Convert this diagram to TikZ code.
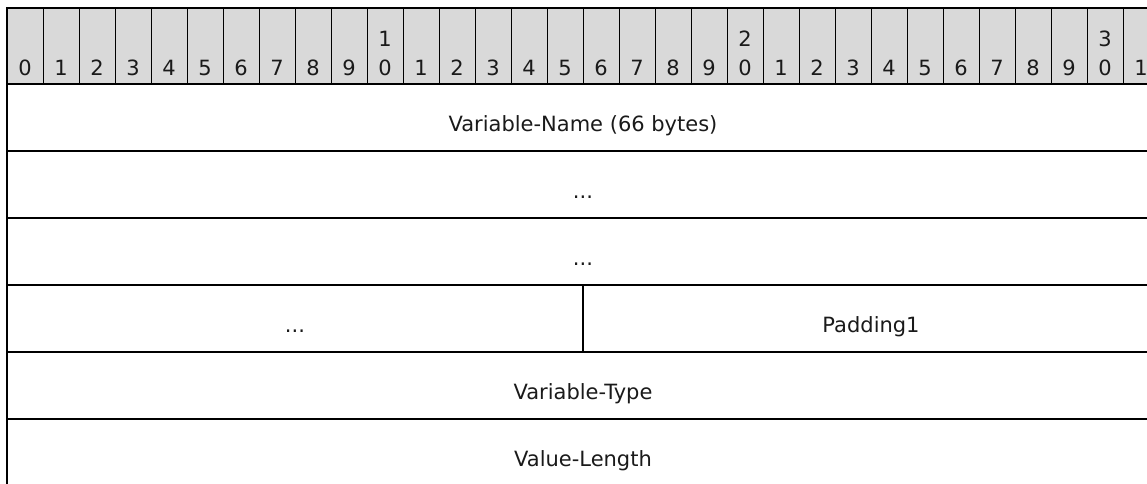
\documentclass[tikz,border=0pt]{standalone}
\usepackage{fontspec}
\setmainfont{DejaVu Sans}
\definecolor{hdrgray}{RGB}{217,217,217}
\definecolor{txt}{RGB}{26,26,26}
\begin{document}
\begin{tikzpicture}[x=1pt,y=-1pt,
  every node/.style={font=\fontsize{21}{29}\selectfont, text=txt},
  hcell/.style={draw=black, fill=hdrgray, line width=1pt, minimum width=36pt, minimum height=76pt, inner sep=0pt},
  digit/.style={anchor=base, inner sep=0pt},
  field/.style={draw=black, line width=1.3pt, minimum height=67pt, inner sep=0pt, text height=27pt, text depth=0pt},
]
\useasboundingbox (0,0) rectangle (1147,483);
\clip (0,0) rectangle (1147,483);
% header cells
\foreach \i in {0,...,31} {
  \node[hcell] (h\i) at ({25+36*\i}, 46) {};
  \pgfmathtruncatemacro\tens{\i/10}
  \pgfmathtruncatemacro\units{mod(\i,10)}
  \node[digit] (u\i) at ({25+36*\i}, 75) {\units};
  \ifnum\i>9 \ifnum\units=0
    \node[digit] (t\i) at ({25+36*\i}, 46) {\tens};
  \fi\fi
}
% header outline
\draw[line width=1.3pt] (h0.south west) -- (h0.north west) -- (h31.north east);
\draw[line width=1.3pt] (h0.south west) -- (h31.south east);
% fields
\node[field, minimum width=1152pt] (f1) at (583,117.5) {Variable-Name (66 bytes)};
\node[field, minimum width=1152pt] (f2) at (583,184.5) {...};
\node[field, minimum width=1152pt] (f3) at (583,251.5) {...};
\node[field, minimum width=576pt] (f4a) at (295,318.5) {...};
\node[field, minimum width=576pt] (f4b) at (871,318.5) {Padding1};
\node[field, minimum width=1152pt] (f5) at (583,385.5) {Variable-Type};
\node[field, minimum width=1152pt] (f6) at (583,452.5) {Value-Length};
\end{tikzpicture}
\end{document}
